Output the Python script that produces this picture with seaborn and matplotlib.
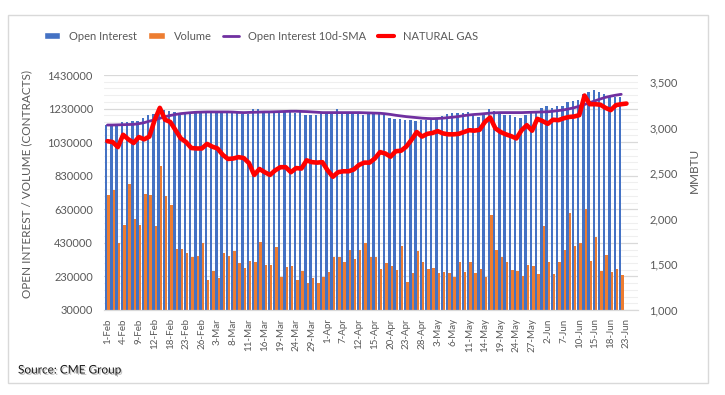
# Natural gas futures: open interest, volume and price (CME data)
import numpy as np
import pandas as pd
import matplotlib
matplotlib.use('Agg')
import matplotlib.pyplot as plt
import matplotlib.patheffects as pe
from matplotlib.patches import Patch, Rectangle
from matplotlib.lines import Line2D
from matplotlib.ticker import FixedLocator, FuncFormatter
import seaborn as sns

# ---- data, contracts in thousands ----
tick_labels = ['1-Feb', '4-Feb', '9-Feb', '12-Feb', '18-Feb', '23-Feb', '26-Feb',
               '3-Mar', '8-Mar', '11-Mar', '16-Mar', '19-Mar', '24-Mar', '29-Mar',
               '1-Apr', '7-Apr', '12-Apr', '15-Apr', '20-Apr', '23-Apr', '28-Apr',
               '3-May', '6-May', '11-May', '14-May', '19-May', '24-May', '27-May',
               '2-Jun', '7-Jun', '10-Jun', '15-Jun', '18-Jun', '23-Jun']
n_days = 100   # trading days 1-Feb .. 23-Jun

open_interest_k = [1130, 1126, 1126, 1152, 1152, 1156, 1156, 1172, 1190, 1196,
                   1200, 1221, 1216, 1210, 1196, 1204, 1206, 1204, 1206, 1204,
                   1206, 1204, 1206, 1206, 1202, 1204, 1196, 1196, 1226, 1226,
                   1202, 1202, 1202, 1206, 1210, 1210, 1206, 1210, 1192, 1192,
                   1192, 1202, 1202, 1202, 1226, 1202, 1202, 1202, 1196, 1192,
                   1196, 1196, 1196, 1192, 1176, 1170, 1166, 1160, 1160, 1156,
                   1160, 1162, 1166, 1166, 1186, 1196, 1202, 1202, 1206, 1210,
                   1190, 1182, 1196, 1230, 1216, 1196, 1190, 1190, 1182, 1176,
                   1190, 1216, 1216, 1236, 1246, 1236, 1246, 1246, 1270, 1276,
                   1282, 1318, 1329, 1341, 1327, 1316, 1305, 1298, 1298]

volume_k = [718, 742, 429, 534, 783, 574, 538, 722, 717, 528,
            887, 707, 658, 395, 395, 369, 343, 349, 429, 209,
            265, 220, 369, 349, 379, 309, 279, 323, 317, 438,
            299, 299, 408, 229, 285, 293, 209, 265, 190, 220,
            190, 225, 259, 343, 343, 317, 385, 335, 385, 429,
            343, 343, 275, 309, 293, 269, 413, 199, 249, 379,
            313, 273, 279, 249, 259, 249, 229, 317, 259, 313,
            249, 275, 229, 598, 385, 343, 317, 269, 263, 233,
            299, 293, 245, 528, 313, 245, 313, 385, 608, 413,
            432, 632, 321, 462, 265, 355, 259, 275, 239]

oi_sma_k = [1132, 1132, 1133, 1134, 1135, 1136, 1140, 1146, 1155, 1163,
            1172, 1182, 1189, 1195, 1200, 1203, 1206, 1208, 1209, 1210,
            1210, 1210, 1210, 1210, 1209, 1207, 1206, 1207, 1208, 1209,
            1210, 1210, 1211, 1212, 1213, 1214, 1214, 1213, 1212, 1210,
            1208, 1206, 1206, 1206, 1206, 1206, 1206, 1206, 1206, 1205,
            1204, 1203, 1202, 1199, 1195, 1190, 1186, 1182, 1179, 1176,
            1173, 1171, 1170, 1171, 1173, 1176, 1179, 1183, 1188, 1192,
            1195, 1197, 1200, 1203, 1205, 1206, 1206, 1206, 1206, 1206,
            1207, 1208, 1209, 1210, 1211, 1214, 1218, 1222, 1228, 1235,
            1244, 1254, 1265, 1276, 1287, 1297, 1304, 1310, 1315]

natural_gas = [2850, 2840, 2785, 2920, 2870, 2830, 2895, 2870, 2900, 3080,
               3215, 3085, 3060, 2970, 2880, 2840, 2775, 2770, 2770, 2820,
               2790, 2770, 2700, 2655, 2660, 2675, 2665, 2610, 2480, 2545,
               2510, 2480, 2530, 2565, 2565, 2510, 2555, 2550, 2640, 2620,
               2615, 2620, 2530, 2460, 2510, 2520, 2520, 2540, 2590, 2615,
               2615, 2660, 2730, 2715, 2680, 2740, 2745, 2790, 2865, 2950,
               2900, 2930, 2940, 2960, 2935, 2925, 2925, 2930, 2950, 2970,
               2965, 2975, 3060, 3110, 2990, 2950, 2925, 2905, 2880, 2970,
               3025, 2965, 3095, 3070, 3040, 3085, 3080, 3100, 3115, 3120,
               3135, 3350, 3255, 3255, 3250, 3215, 3190, 3245, 3255, 3262]

BLUE = '#4472C4'
ORANGE = '#ED7D31'
PURPLE = '#7030A0'
RED = '#FF0000'
GREY_TXT = '#595959'

days = np.arange(len(open_interest_k))
bars = pd.concat([
    pd.DataFrame({'day': days, 'value': np.array(open_interest_k) * 1000, 'series': 'Open Interest'}),
    pd.DataFrame({'day': days, 'value': np.array(volume_k) * 1000, 'series': 'Volume'}),
])

sns.set_style('white')
plt.rcParams['font.family'] = ['Lato', 'DejaVu Sans']

fig = plt.figure(figsize=(7.25, 3.95), dpi=100)
ax = fig.add_axes([104 / 725, 1 - 310 / 395, 534 / 725, 235 / 395])

sns.barplot(data=bars, x='day', y='value', hue='series', order=list(range(n_days)),
            hue_order=['Open Interest', 'Volume'], palette=[BLUE, ORANGE],
            saturation=1, width=0.92, gap=0, errorbar=None, legend=False,
            linewidth=0, edgecolor='none', ax=ax)
sns.lineplot(x=days, y=np.array(oi_sma_k) * 1000, color=PURPLE, lw=2.0, ax=ax)

ax2 = ax.twinx()
sns.lineplot(x=np.arange(len(natural_gas)), y=natural_gas, color=RED, lw=3.3, ax=ax2)

# left axis
ax.set_ylim(30000, 1430000)
ax.yaxis.set_major_locator(FixedLocator(np.arange(30000, 1430001, 200000)))
ax.yaxis.set_minor_locator(FixedLocator(np.arange(30000, 1430001, 40000)))
ax.yaxis.set_major_formatter(FuncFormatter(lambda v, p: f'{int(round(v))}'))
ax.grid(axis='y', which='major', color='#D9D9D9', lw=0.9)
ax.grid(axis='y', which='minor', color='#EFEFEF', lw=0.8)
ax.grid(axis='x', visible=False)
ax.set_axisbelow(True)
ax.tick_params(axis='y', which='both', length=0, pad=8, labelsize=8, labelcolor=GREY_TXT)
ax.set_ylabel('')
ax.set_xlabel('')

# x axis
ax.set_xlim(-0.65, 101.2)
ax.set_xticks(range(0, n_days, 3))
ax.set_xticklabels(tick_labels, rotation=90)
ax.xaxis.set_minor_locator(FixedLocator(np.arange(-0.5, 101.5, 1)))
ax.tick_params(axis='x', which='major', length=0, pad=6, labelsize=7, labelcolor=GREY_TXT)
ax.tick_params(axis='x', which='minor', length=3, width=0.6, color='#BFBFBF')

# right axis
ax2.set_ylim(1000, 3575)
ax2.set_yticks(range(1000, 3501, 500))
ax2.yaxis.set_major_formatter(FuncFormatter(lambda v, p: f'{int(v):,}'))
ax2.tick_params(axis='y', length=0, pad=8, labelsize=8, labelcolor=GREY_TXT)
ax2.set_ylabel('')
ax2.grid(False)

for a in (ax, ax2):
    for s in ('left', 'right', 'top'):
        a.spines[s].set_visible(False)
    a.spines['bottom'].set_color('#D9D9D9')

fig.text(27 / 725, 1 - 184 / 395, 'OPEN INTEREST / VOLUME (CONTRACTS)', rotation=90,
         ha='center', va='center', fontsize=8.5, color=GREY_TXT)
fig.text(694 / 725, 1 - 170 / 395, 'MMBTU', rotation=90,
         ha='center', va='center', fontsize=8.5, color=GREY_TXT)

handles = [Patch(facecolor=BLUE), Patch(facecolor=ORANGE),
           Line2D([], [], color=PURPLE, lw=2.0), Line2D([], [], color=RED, lw=3.0)]
names = ['Open Interest', 'Volume', 'Open Interest 10d-SMA', 'NATURAL GAS']
leg = fig.legend(handles, names, loc='center', bbox_to_anchor=(261 / 725, 1 - 36 / 395),
                 ncol=4, frameon=False, fontsize=8, handlelength=1.5, handleheight=0.6,
                 handletextpad=0.8, columnspacing=1.0)
for t in leg.get_texts():
    t.set_color(GREY_TXT)

fig.text(18 / 725, 1 - 370 / 395, 'Source: CME Group', ha='left', va='center',
         fontsize=8.5, color='#1a1a1a',
         path_effects=[pe.withSimplePatchShadow(offset=(1, -1), shadow_rgbFace='#888888', alpha=0.5)])

fig.patches.append(Rectangle((8 / 725, 1 - 383 / 395), 700 / 725, 368 / 395,
                             transform=fig.transFigure, fill=False, edgecolor='#D9D9D9', lw=1))

fig.savefig('out.png', dpi=100)
